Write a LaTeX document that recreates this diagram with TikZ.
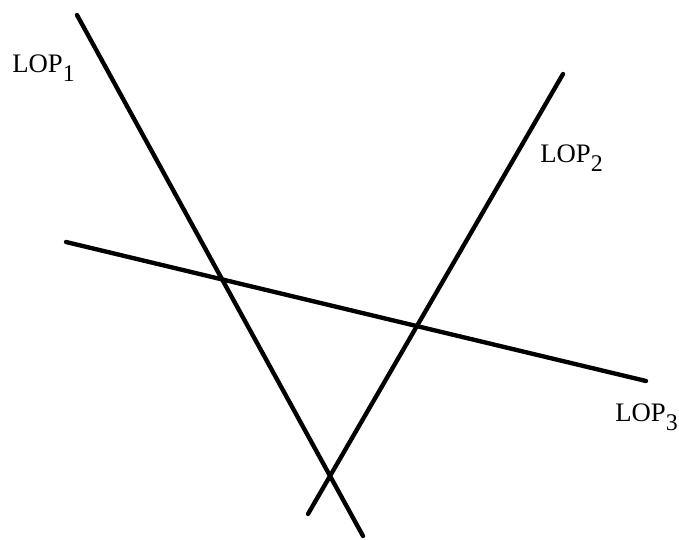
\documentclass[tikz,border=0pt]{standalone}
\usepackage{fontspec}
\setmainfont{Liberation Serif}
\usetikzlibrary{positioning}
\newcommand{\lopsub}[1]{\raisebox{-7pt}{\fontsize{17}{17}\selectfont #1}}

\begin{document}
\begin{tikzpicture}[x=0.025cm, y=-0.025cm,
  every node/.style={font=\fontsize{19}{21}\selectfont, inner sep=0pt},
  lopline/.style={line width=3.1pt, line cap=round, black}]
  \useasboundingbox (0,0) rectangle (679,540);

  % Line end points
  \coordinate (lopA1) at (77,15);
  \coordinate (lopA2) at (363,536);
  \coordinate (lopB1) at (563,74);
  \coordinate (lopB2) at (308,514);
  \coordinate (lopC1) at (66,242);
  \coordinate (lopC2) at (646,381);

  % Lines of position
  \draw[lopline] (lopA1) -- (lopA2);
  \draw[lopline] (lopB1) -- (lopB2);
  \draw[lopline] (lopC1) -- (lopC2);

  % Labels
  \node[anchor=base west] (labA) at (12,72) {LOP\lopsub{1}};
  \node[anchor=base west] (labB) at (540,162) {LOP\lopsub{2}};
  \node[anchor=base west] (labC) at (615,421) {LOP\lopsub{3}};
\end{tikzpicture}
\end{document}
